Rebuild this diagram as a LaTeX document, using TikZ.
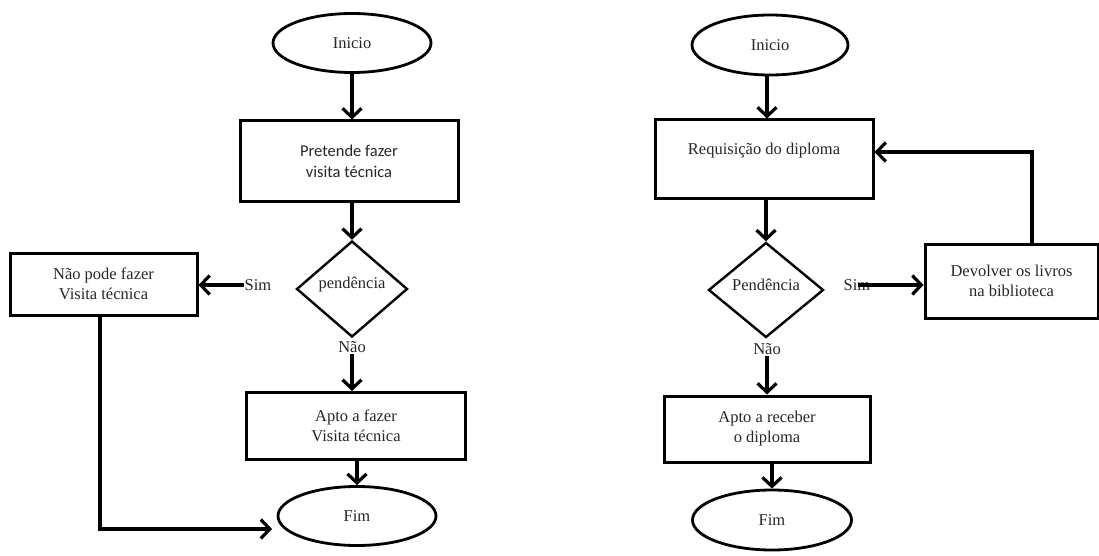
\documentclass[tikz,border=0pt]{standalone}
\usepackage{fontspec}
\setmainfont{Liberation Serif}
\newfontfamily\calfont{Carlito}
\usetikzlibrary{shapes.geometric,arrows.meta}
\begin{document}
\begin{tikzpicture}[x=1pt,y=-1pt,
  every node/.style={font=\fontsize{16.5}{20}\selectfont, text=black!85},
  term/.style={draw, ellipse, line width=2.8pt, minimum width=158pt, minimum height=59pt, inner sep=0pt},
  proc/.style={draw, rectangle, line width=3pt, align=center, inner sep=0pt},
  dec/.style={draw, diamond, line width=2.4pt, inner sep=0pt},
  lbl/.style={inner sep=1pt},
  flow/.style={line width=3.2pt, -{Straight Barb[length=9pt,width=19pt]}}
]
\useasboundingbox (0,0) rectangle (1099,556);
% ---------- left chart ----------
\node[term] (iniL) at (352,43) {Inicio};
\node[proc, minimum width=218pt, minimum height=80pt, font=\calfont\fontsize{16.5}{21}\selectfont] (preL) at (349,161) {Pretende fazer\\visita técnica};
\node[dec, minimum width=111pt, minimum height=96pt] (penL) at (352,289) {};
\node[lbl] (penLt) at (352,285) {pendência};
\node[lbl] (simL) at (258,285) {Sim};
\node[proc, minimum width=187pt, minimum height=62pt] (naoL) at (103.5,284) {Não pode fazer\\Visita técnica};
\node[lbl] (naoLt) at (352,347) {Não};
\node[proc, minimum width=219pt, minimum height=67pt] (aptoL) at (356,426) {Apto a fazer\\Visita técnica};
\node[term] (fimL) at (357,516) {Fim};
\draw[flow] (iniL) -- (preL.north -| iniL);
\draw[flow] (preL.south -| penL) -- (penL.north);
\draw[flow] (simL.west) -- (naoL.east |- simL);
\draw[flow] (naoLt.south) -- (aptoL.north -| naoLt);
\draw[flow] (aptoL.south -| fimL) -- (fimL.north);
\coordinate (cL) at (100,529);
\coordinate (tL) at (272,529);
\draw[flow] (naoL.south -| cL) -- (cL) -- (tL);
% ---------- right chart ----------
\node[term, minimum width=156pt, minimum height=60pt] (iniR) at (770,45) {Inicio};
\node[proc, minimum width=218pt, minimum height=78pt] (reqR) at (764,159) {Requisição do diploma\\~};
\node[dec, minimum width=115pt, minimum height=95pt] (penR) at (766,290) {};
\node[lbl] (penRt) at (766,285) {Pendência};
\node[lbl] (simR) at (857,285) {Sim};
\node[proc, minimum width=173pt, minimum height=74pt] (devR) at (1011.5,281) {Devolver os livros\\na biblioteca};
\node[lbl] (naoRt) at (767,349) {Não};
\node[proc, minimum width=206pt, minimum height=66pt] (aptoR) at (767,429) {Apto a receber\\o diploma};
\node[term, minimum width=159pt, minimum height=60pt] (fimR) at (772,520) {Fim};
\draw[flow] (iniR.south -| 767,0) -- (reqR.north -| 767,0);
\draw[flow] (reqR.south -| penR) -- (penR.north);
\draw[flow] (simR.east) ++(-14,0) -- (devR.west |- simR);
\draw[flow] (naoRt.south) -- (aptoR.north -| naoRt);
\draw[flow] (aptoR.south -| fimR) -- (fimR.north);
\coordinate (lpR) at (1032,152);
\draw[flow] (devR.north -| lpR) -- (lpR) -- (reqR.east |- lpR);
\end{tikzpicture}
\end{document}
